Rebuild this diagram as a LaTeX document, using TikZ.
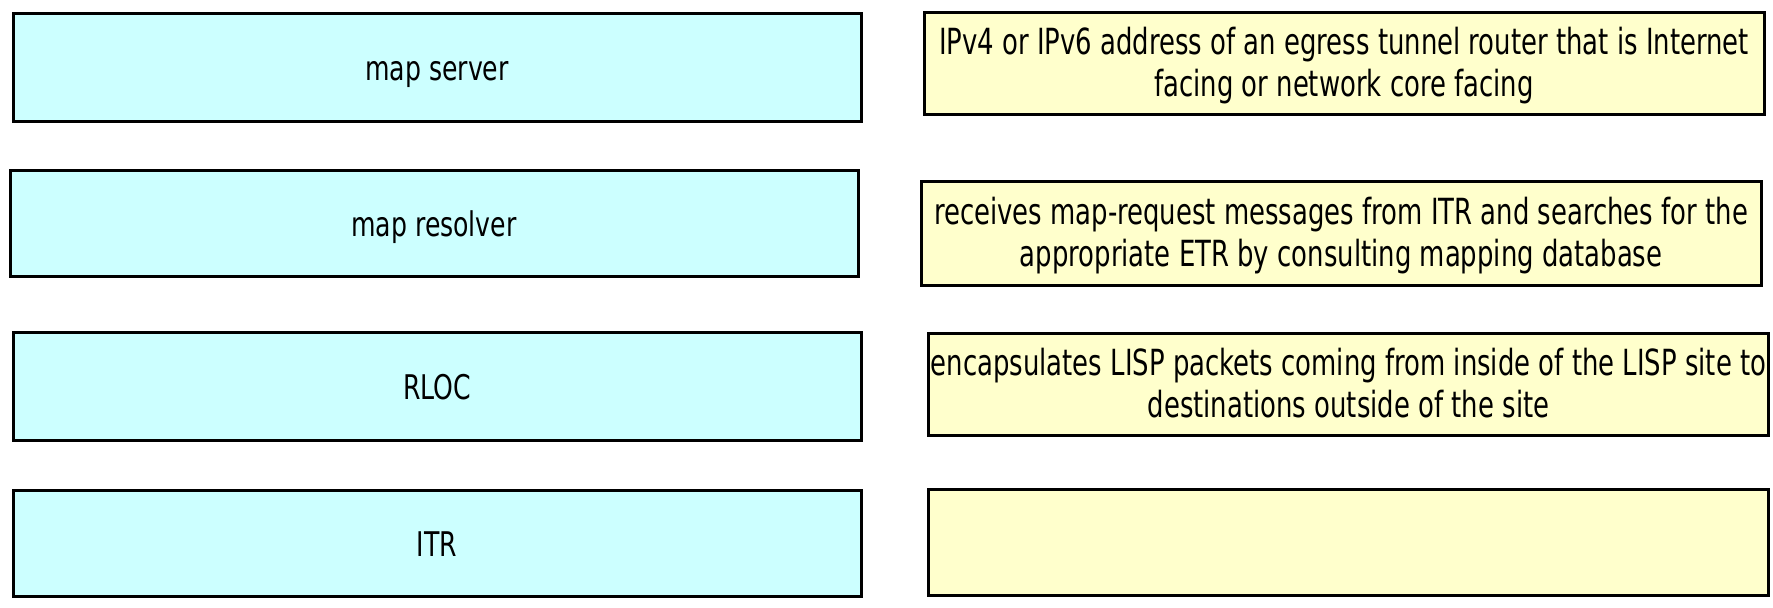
\documentclass[tikz,border=0pt]{standalone}
\usepackage{fontspec}
\setmainfont{DejaVu Sans}
\newfontfamily\termfont{DejaVu Sans}[FakeStretch=0.74]
\newfontfamily\descfont{DejaVu Sans}[FakeStretch=0.72]
\usetikzlibrary{positioning}
\definecolor{termfill}{HTML}{CCFFFF}
\definecolor{descfill}{HTML}{FFFFCC}
\tikzset{
  term_/.style = {shape=rectangle, draw, line width=1.5pt, fill=termfill,
                  minimum width=424pt, minimum height=54pt, align=center,
                  text height=13pt, text depth=0pt,
                  font=\termfont\fontsize{17}{22}\selectfont},
  desc_/.style = {shape=rectangle, draw, line width=1.5pt, fill=descfill,
                  minimum width=420pt, minimum height=51pt, inner sep=0pt, align=center,
                  text depth=2pt,
                  font=\descfont\fontsize{18}{21}\selectfont}
}

\begin{document}
\begin{tikzpicture}
	[
	x = 0.5pt,
	y = -0.5pt
	]
	\useasboundingbox (0,0) rectangle (1773,608);
	% terms
	\node [term_] (server)   at (437,67.5)  {map server};
	\node [term_, minimum height=53pt] (resolver) at (434,223.5) {map resolver};
	\node [term_] (rloc)     at (437,386.5) {RLOC};
	\node [term_, minimum height=53pt] (itr)      at (437,543.5) {ITR};
	% descriptions
	\node [desc_] (address) at (1344,64)    {IPv4 or IPv6 address of an egress tunnel router that is Internet\\facing or network core facing};
	\node [desc_, minimum height=52pt] (request) at (1341,234)   {receives map-request messages from ITR and searches for the\\appropriate ETR by consulting mapping database};
	\node [desc_] (encap)   at (1348.5,385) {encapsulates LISP packets coming from inside of the LISP site to\\destinations outside of the site};
	\node [desc_, minimum height=53pt] (empty)   at (1348.5,543) {};
\end{tikzpicture}
\end{document}
